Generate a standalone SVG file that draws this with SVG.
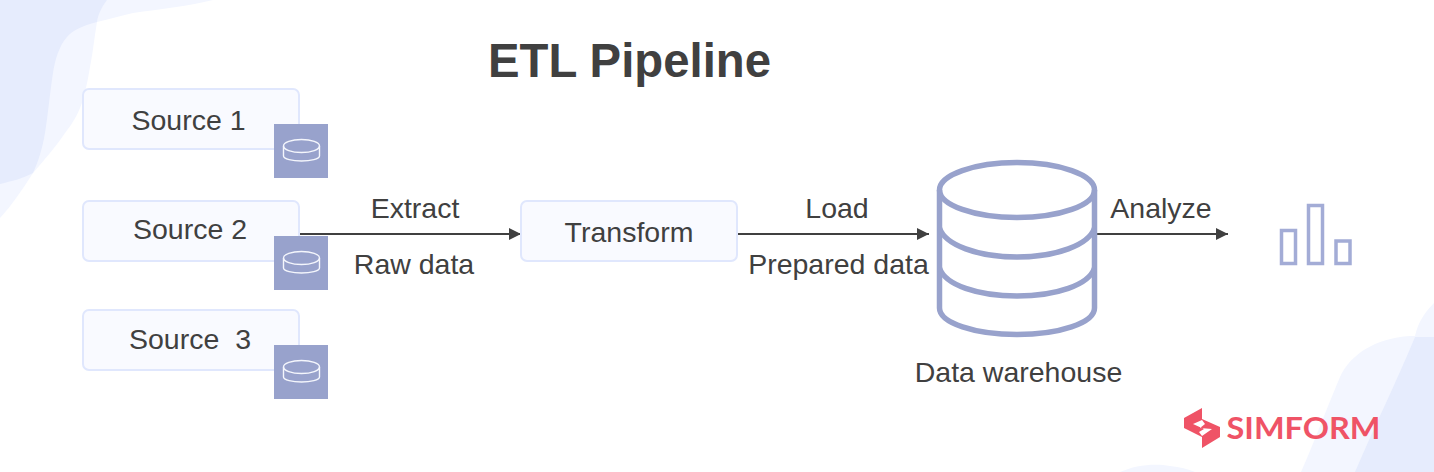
<svg xmlns="http://www.w3.org/2000/svg" width="1434" height="472" viewBox="0 0 1434 472">
<style>
text{font-family:"Liberation Sans",Arial,sans-serif;fill:#404040;font-size:28.500px;text-anchor:middle}
.title{font-size:47.300px;font-weight:700}
.box{fill:#f9faff;stroke:#e0e7fd;stroke-width:2}
.badge{fill:#98a2cc}
.disc{fill:none;stroke:#f4f6fc;stroke-width:1.4}
.wire{fill:none;stroke:#404040;stroke-width:2}
.cyl{fill:none;stroke:#98a2cc;stroke-width:5.500}
.bar{fill:none;stroke:#a3acd6;stroke-width:3.500}
.l{fill:#f3f6ff}
.d{fill:#e6ecfd}
.logo{font-family:"Lato",sans-serif;font-weight:700;font-size:31px;fill:#ef5366}
</style>
<defs>
<marker id="arrow" markerUnits="userSpaceOnUse" markerWidth="12" markerHeight="12" refX="12" refY="6" orient="auto"><path d="M0 0L12 6L0 12Z" fill="#404040"/></marker>
<g id="disc-icon"><ellipse class="disc" cx="0" cy="-5" rx="18" ry="6.500"/><path class="disc" d="M-18 -5V5C-18 8 -9 10 0 10S18 8 18 5V-5"/></g>
</defs>
<g id="background">
<path class="l" d="M0 0H107C100 8 98 15 97 22C94 40 93 52 90 67C87 85 85 92 83 100C78 115 72 124 65 133C55 148 44 160 33 173C22 190 12 205 0 218Z"/>
<path class="l" d="M97 22C110 19 120 16 133 13C160 9 190 6 213 0H97Z"/>
<path class="d" d="M0 0H107C101 8 98 15 97 22C82 26 73 30 67 37C59 46 55 60 53 73C50 92 48 115 45 133C42 150 38 162 33 173C22 179 12 181 0 184Z"/>
<path class="l" d="M1434 303C1425 312 1418 322 1415 336H1434Z"/>
<path class="l" d="M1434 336H1410C1375 338 1350 355 1340 377C1326 410 1313 445 1301 472H1434Z"/>
<path class="d" d="M1415 337H1434V472H1355C1375 425 1395 385 1415 337Z"/>
<path class="l" d="M1120 472C1135 465 1155 463 1170 466C1180 467 1188 469 1195 472Z"/>
</g>
<g id="title"><text class="title" x="629.500" y="77">ETL Pipeline</text></g>
<g id="connectors">
<path class="wire" d="M300 234H521" marker-end="url(#arrow)"/>
<path class="wire" d="M738 234H929" marker-end="url(#arrow)"/>
<path class="wire" d="M1097 234H1228" marker-end="url(#arrow)"/>
</g>
<g id="source-1"><rect class="box" x="83" y="89" width="216" height="60" rx="6"/><rect class="badge" x="274" y="124" width="54" height="54"/><use href="#disc-icon" x="301.500" y="151"/><text x="188.500" y="130">Source 1</text></g>
<g id="source-2"><rect class="box" x="83" y="201" width="216" height="60" rx="6"/><rect class="badge" x="274" y="236" width="54" height="54"/><use href="#disc-icon" x="301.500" y="263"/><text x="190" y="239">Source 2</text></g>
<g id="source-3"><rect class="box" x="83" y="310" width="216" height="60" rx="6"/><rect class="badge" x="274" y="345" width="54" height="54"/><use href="#disc-icon" x="301.500" y="372"/><text x="190" y="349" xml:space="preserve">Source  3</text></g>
<g id="transform"><rect class="box" x="521" y="201" width="216" height="60" rx="6"/><text x="629" y="242">Transform</text></g>
<g id="labels">
<text x="415" y="218">Extract</text>
<text x="414" y="274">Raw data</text>
<text x="837" y="218">Load</text>
<text x="838.500" y="274">Prepared data</text>
<text x="1161" y="218">Analyze</text>
</g>
<g id="warehouse">
<ellipse class="cyl" cx="1017" cy="190" rx="77.500" ry="27.500"/>
<path class="cyl" d="M939.500 190V308C939.500 323 975 334.500 1017 334.500S1094.500 323 1094.500 308V190"/>
<path class="cyl" d="M939.500 228C945 245 978 257 1017 257S1089 245 1094.500 228"/>
<path class="cyl" d="M939.500 268C945 285 978 296 1017 296S1089 285 1094.500 268"/>
<text x="1018.500" y="382">Data warehouse</text>
</g>
<g id="chart">
<rect class="bar" x="1281.500" y="230.500" width="14" height="33"/>
<rect class="bar" x="1308.500" y="205.500" width="14" height="58"/>
<rect class="bar" x="1336" y="241" width="14" height="22.500"/>
</g>
<g id="logo">
<path fill="#ef5366" fill-rule="evenodd" d="M1184 418L1202 408V419L1220 427V437L1202 448V437L1184 428ZM1193 424L1202 420L1205 424L1200 428L1212 429L1202 436L1199 432L1204 429Z"/>
<text class="logo" x="1303.500" y="439" textLength="154" lengthAdjust="spacingAndGlyphs">SIMFORM</text>
</g>
</svg>
